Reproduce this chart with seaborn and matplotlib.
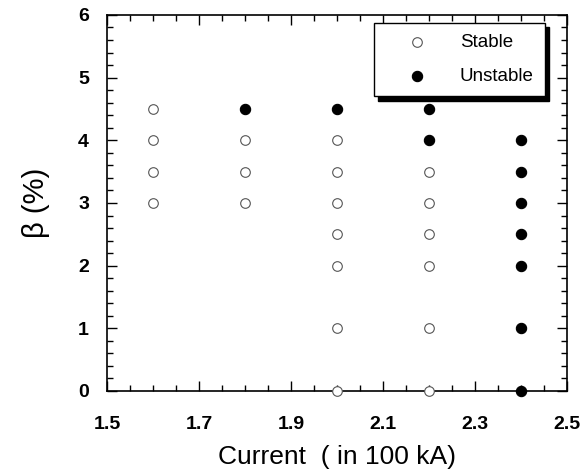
import matplotlib
matplotlib.use("Agg")
import matplotlib.pyplot as plt
import seaborn as sns
import pandas as pd
from matplotlib.ticker import MultipleLocator, FixedLocator

stable_x = [1.6, 1.6, 1.6, 1.6, 1.8, 1.8, 1.8,
            2.0, 2.0, 2.0, 2.0, 2.0, 2.0, 2.0,
            2.2, 2.2, 2.2, 2.2, 2.2, 2.2]
stable_y = [3.0, 3.5, 4.0, 4.5, 3.0, 3.5, 4.0,
            0.0, 1.0, 2.0, 2.5, 3.0, 3.5, 4.0,
            0.0, 1.0, 2.0, 2.5, 3.0, 3.5]
unstable_x = [1.8, 2.0, 2.2, 2.2, 2.4, 2.4, 2.4, 2.4, 2.4, 2.4, 2.4]
unstable_y = [4.5, 4.5, 4.0, 4.5, 0.0, 1.0, 2.0, 2.5, 3.0, 3.5, 4.0]
categories = ["Stable", "Unstable"]
x_ticks = [1.5, 1.7, 1.9, 2.1, 2.3, 2.5]
x_ticklabels = ["1.5", "1.7", "1.9", "2.1", "2.3", "2.5"]

df = pd.DataFrame({
    "current": stable_x + unstable_x,
    "beta": stable_y + unstable_y,
    "state": [categories[0]] * len(stable_x) + [categories[1]] * len(unstable_x),
})

sns.set_style("ticks")
plt.rcParams['font.family'] = ['Liberation Sans', 'DejaVu Sans']
plt.rcParams['text.color'] = 'black'
plt.rcParams['axes.labelcolor'] = 'black'

fig = plt.figure(figsize=(5.83, 4.76), dpi=100)
ax = fig.add_axes([0.1835, 0.1786, 0.789, 0.79])

sns.scatterplot(data=df[df.state == "Stable"], x="current", y="beta",
                marker="o", s=48, facecolor="white", edgecolor="#555555",
                linewidth=0.8, ax=ax, clip_on=False, zorder=3, label=categories[0])
sns.scatterplot(data=df[df.state == "Unstable"], x="current", y="beta",
                marker="o", s=55, color="black", edgecolor="black",
                linewidth=0.8, ax=ax, clip_on=False, zorder=3, label=categories[1])

ax.set_xlim(1.5, 2.5)
ax.set_ylim(0, 6)
ax.xaxis.set_major_locator(FixedLocator(x_ticks))
ax.set_xticklabels(x_ticklabels)
ax.xaxis.set_minor_locator(MultipleLocator(0.05))
ax.yaxis.set_major_locator(MultipleLocator(1))
ax.yaxis.set_minor_locator(MultipleLocator(0.2))
ax.tick_params(which="both", direction="in", top=True, right=True, color="black",
               labelcolor="black", width=1)
ax.tick_params(which="major", length=7, labelsize=14)
ax.tick_params(axis="x", which="major", pad=18)
ax.tick_params(axis="y", which="major", pad=13)
ax.tick_params(which="minor", length=4)
for lab in ax.get_xticklabels() + ax.get_yticklabels():
    lab.set_fontweight("bold")
for sp in ax.spines.values():
    sp.set_color("black")
    sp.set_linewidth(1.2)

ax.set_xlabel("Current  ( in 100 kA)", fontsize=19, labelpad=9, color="black")
ax.set_ylabel("β (%)", fontsize=21, labelpad=20, color="black")

leg = ax.legend(loc="upper right", bbox_to_anchor=(0.952, 0.979), frameon=True,
                fancybox=False, shadow={"color": "black", "alpha": 1.0, "ox": 3, "oy": -3},
                fontsize=13.5, borderpad=0.6, handletextpad=0.6, labelspacing=0.9,
                borderaxespad=0, handlelength=3.4, markerscale=1.0, labelcolor="black")
leg.get_frame().set_edgecolor("black")
leg.get_frame().set_linewidth(1.0)
leg.get_frame().set_alpha(1.0)

fig.savefig("out.png", dpi=100)
